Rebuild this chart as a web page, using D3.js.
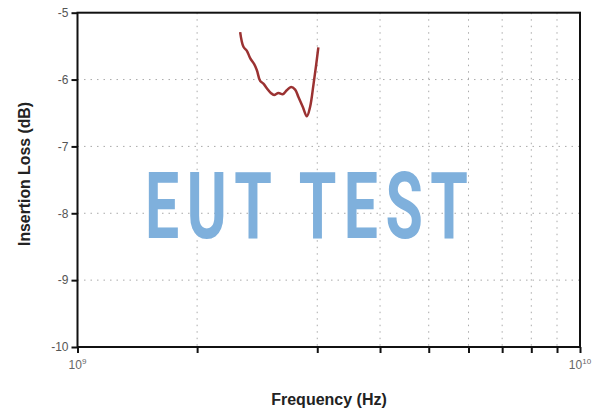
<!DOCTYPE html>
<html><head><meta charset="utf-8">
<script src="https://cdn.jsdelivr.net/npm/d3@7"></script>
<style>body{margin:0;background:#fff}svg{display:block}</style>
</head><body>
<svg id="c" width="600" height="413"></svg>
<script>
const freqGHz = [2.107,2.139,2.173,2.206,2.247,2.275,2.309,2.344,2.381,2.425,2.462,2.511,2.561,2.609,2.661,2.711,2.752,2.808,2.860,2.903,2.948,2.985,3.015];
const lossDB  = [-5.29,-5.51,-5.57,-5.68,-5.77,-5.86,-6.02,-6.06,-6.13,-6.20,-6.23,-6.20,-6.22,-6.16,-6.11,-6.15,-6.26,-6.41,-6.55,-6.41,-6.08,-5.78,-5.52];
const yTicks = [-5,-6,-7,-8,-9,-10];
const xTicks = [1e9,1.73e9,3e9,4e9,5e9,6e9,7e9,8e9,9e9,1e10];
const xLabels = [{v:1e9,e:"9"},{v:1e10,e:"10"}];

const svg = d3.select("#c");
const L=77.5, R=580, T=12.7, B=347;
const x = d3.scaleLog().domain([1e9,1e10]).range([L,R]);
const y = d3.scaleLinear().domain([-10,-5]).range([B,T]);

// grid
svg.append("g").selectAll("line").data(yTicks.slice(1,-1)).join("line")
  .attr("x1",L).attr("x2",R).attr("y1",d=>y(d)).attr("y2",d=>y(d))
  .attr("stroke","#aaa").attr("stroke-width",1).attr("stroke-dasharray","1.5,5");
svg.append("g").selectAll("line").data(xTicks.slice(1,-1)).join("line")
  .attr("y1",T).attr("y2",B).attr("x1",d=>x(d)).attr("x2",d=>x(d))
  .attr("stroke","#aaa").attr("stroke-width",1).attr("stroke-dasharray","1.5,5");

// watermark
svg.append("g").attr("transform","translate(145,238) scale(0.66,1)")
  .append("text").text("EUT TEST")
  .attr("x",0).attr("y",0)
  .attr("font-family","Roboto, 'DejaVu Sans', sans-serif")
  .attr("font-size",92).attr("font-weight",700)
  .attr("textLength",323/0.66).attr("lengthAdjust","spacing")
  .attr("fill","#7fb0dc");

// frame
svg.append("rect").attr("x",L).attr("y",T).attr("width",R-L).attr("height",B-T)
  .attr("fill","none").attr("stroke","#111").attr("stroke-width",2);

// axes
const xa = svg.append("g").attr("transform",`translate(0,${B})`)
  .call(d3.axisBottom(x).tickValues(xTicks).tickSize(6).tickFormat(""));
xa.select(".domain").remove();
xa.selectAll("line").attr("stroke","#111").attr("stroke-width",2);

const ya = svg.append("g").attr("transform",`translate(${L},0)`)
  .call(d3.axisLeft(y).tickValues(yTicks).tickSize(6).tickPadding(3).tickFormat(d=>String(d)));
ya.select(".domain").remove();
ya.selectAll("line").attr("stroke","#111").attr("stroke-width",2);
ya.selectAll("text").attr("font-family","Arial, 'Liberation Sans', sans-serif")
  .attr("font-size",12).attr("fill","#555");

// x labels 10^n
const xl = svg.append("g").selectAll("text").data(xLabels).join("text")
  .attr("x",d=>x(d.v)).attr("y",369).attr("text-anchor","middle")
  .attr("font-family","Arial, 'Liberation Sans', sans-serif").attr("font-size",12).attr("fill","#666");
xl.append("tspan").text("10");
xl.append("tspan").text(d=>d.e).attr("font-size",8).attr("dy",-5);

// data line
const pts = freqGHz.map((f,i)=>[f*1e9,lossDB[i]]);
svg.append("path").datum(pts)
  .attr("d",d3.line().x(d=>x(d[0])).y(d=>y(d[1])).curve(d3.curveCatmullRom))
  .attr("fill","none").attr("stroke","#9b3232").attr("stroke-width",2.5).attr("stroke-linejoin","round");

// axis titles
svg.append("text").text("Frequency (Hz)").attr("x",329).attr("y",405)
  .attr("text-anchor","middle").attr("font-family","Arial, 'Liberation Sans', sans-serif")
  .attr("font-size",16).attr("font-weight","bold").attr("fill","#222");
svg.append("text").text("Insertion Loss (dB)")
  .attr("transform","translate(30,174) rotate(-90)")
  .attr("text-anchor","middle").attr("font-family","Arial, 'Liberation Sans', sans-serif")
  .attr("font-size",15.8).attr("font-weight","bold").attr("fill","#222");
</script>
</body></html>
